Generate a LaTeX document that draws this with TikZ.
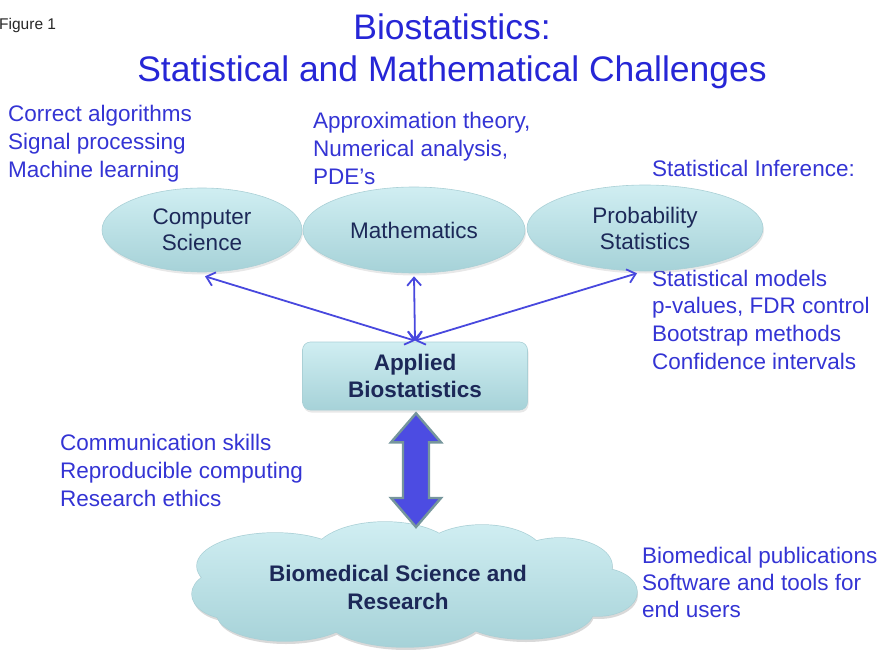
\documentclass[tikz,border=0pt]{standalone}
\usepackage{fontspec}
\setmainfont{Liberation Sans}
\usetikzlibrary{shapes.geometric,arrows.meta,shadows,calc}

\definecolor{labelblue}{RGB}{52,52,212}
\definecolor{titleblue}{RGB}{38,38,214}
\definecolor{navy}{RGB}{28,40,88}
\definecolor{tealtop}{RGB}{208,238,242}
\definecolor{tealbot}{RGB}{166,210,216}
\definecolor{tealedge}{RGB}{170,208,214}
\definecolor{linkblue}{RGB}{72,72,222}
\definecolor{bigblue}{RGB}{76,76,226}
\definecolor{bigedge}{RGB}{118,150,156}

\begin{document}
\begin{tikzpicture}[x=1pt,y=-1pt,
  note/.style={text=labelblue, font=\fontsize{22.5}{27.6}\selectfont,
    align=left, anchor=base west, inner sep=0pt},
  tealfill/.style={shade, top color=tealtop, bottom color=tealbot,
    draw=tealedge, line width=0.6pt,
    drop shadow={opacity=0.18, shadow xshift=1pt, shadow yshift=-2.5pt}},
  field/.style={ellipse, tealfill, text=navy,
    font=\fontsize{22.5}{26}\selectfont, align=center, inner sep=0pt},
  hubbox/.style={rectangle, rounded corners=8pt, tealfill, text=navy,
    font=\bfseries\fontsize{22.5}{27}\selectfont, align=center, inner sep=0pt},
  link/.style={draw=linkblue, line width=1.8pt,
    {Straight Barb[length=8pt,width=14pt]}-{Straight Barb[length=8pt,width=14pt]}},
]
\useasboundingbox (0,0) rectangle (883,650);

% caption and title (multi-line nodes sit on their last baseline)
\node[anchor=base west, inner sep=0pt, text=black!85,
      font=\fontsize{15.5}{18}\selectfont] (fig) at (-1,30) {Figure 1};
\node[anchor=base, inner sep=0pt, text=titleblue, align=center,
      font=\fontsize{35.5}{42}\selectfont] (title) at (452,82)
  {Biostatistics:\\Statistical and Mathematical Challenges};

% side notes
\node[note] (csnote) at (8,177) {Correct algorithms\\Signal processing\\Machine learning};
\node[note] (mathnote) at (313,184) {Approximation theory,\\Numerical analysis,\\PDE’s};
\node[note] (infer) at (652,176) {Statistical Inference:};
\node[note] (infernote) at (652,369)
  {Statistical models\\p-values, FDR control\\Bootstrap methods\\Confidence intervals};
\node[note] (skills) at (60,506)
  {Communication skills\\Reproducible computing\\Research ethics};
\node[note, font=\fontsize{22.5}{27}\selectfont] (outputs) at (642,617)
  {Biomedical publications\\Software and tools for\\end users};

% disciplines
\node[field, minimum width=200pt, minimum height=84pt] (cs) at (202,230) {Computer\\Science};
\node[field, minimum width=222pt, minimum height=86pt] (math) at (414,230) {Mathematics};
\node[field, minimum width=236pt, minimum height=86pt] (prob) at (645,228) {Probability\\Statistics};

% applied biostatistics
\node[hubbox, minimum width=225pt, minimum height=68pt] (hub) at (415,376) {Applied\\Biostatistics};

% links to the disciplines
\draw[link] ([shift={(0,-1)}]hub.north) -- ([shift={(3,4)}]cs.south);
\draw[link] ([shift={(0,-1)}]hub.north) -- ([shift={(0,3)}]math.south);
\draw[link] ([shift={(0,-1)}]hub.north) -- ([shift={(-8,2)}]prob.south);

% biomedical research cloud: a union of puffs, outlined then filled
\def\cloudpuffs{
  (275,566) ellipse [x radius=78, y radius=33]
  (385,556) ellipse [x radius=72, y radius=34]
  (482,556) ellipse [x radius=62, y radius=31]
  (560,566) ellipse [x radius=52, y radius=28]
  (598,592) ellipse [x radius=39, y radius=24]
  (232,594) ellipse [x radius=40, y radius=25]
  (285,614) ellipse [x radius=68, y radius=27]
  (405,616) ellipse [x radius=80, y radius=31]
  (525,612) ellipse [x radius=68, y radius=27]
  (415,586) ellipse [x radius=160, y radius=40]
}
\fill[black, opacity=0.15, shift={(1,3)}] \cloudpuffs;
\draw[tealedge, line width=1.4pt] \cloudpuffs;
\shade[top color=tealtop, bottom color=tealbot] \cloudpuffs;
\path (415,584) coordinate (bio);
\coordinate (biotop) at (415,522);
\node[text=navy, font=\bfseries\fontsize{22.5}{28}\selectfont, align=center,
      inner sep=0pt] (biotext) at (398,587) {Biomedical Science and\\Research};

% two-way block arrow between hub and cloud
\coordinate (up) at ([shift={(1,3)}]hub.south);
\coordinate (dn) at ([shift={(1,5)}]biotop);
\fill[black!85, shift={(-3,3)}]
  (up) -- ++(25,29) -- ++(-12,0) -- ($(dn)+(13,-29)$) -- ($(dn)+(25,-29)$)
  -- (dn) -- ($(dn)+(-25,-29)$) -- ($(dn)+(-13,-29)$) -- ($(up)+(-13,29)$)
  -- ($(up)+(-25,29)$) -- cycle;
\filldraw[fill=bigblue, draw=bigedge, line width=2.4pt, line join=miter]
  (up) -- ++(25,29) -- ++(-12,0) -- ($(dn)+(13,-29)$) -- ($(dn)+(25,-29)$)
  -- (dn) -- ($(dn)+(-25,-29)$) -- ($(dn)+(-13,-29)$) -- ($(up)+(-13,29)$)
  -- ($(up)+(-25,29)$) -- cycle;
\end{tikzpicture}
\end{document}
